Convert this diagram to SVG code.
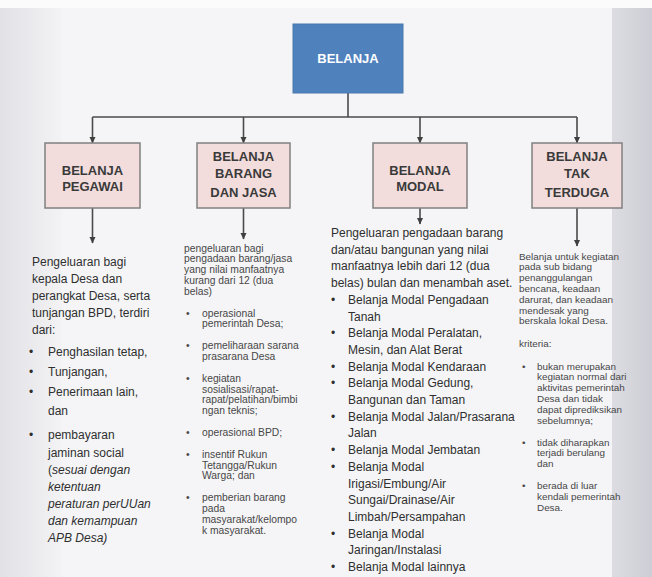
<svg xmlns="http://www.w3.org/2000/svg" width="652" height="577" viewBox="0 0 652 577">
  <defs>
    <linearGradient id="leftShade" x1="0" y1="0" x2="1" y2="0">
      <stop offset="0" stop-color="#e1e1e6"/>
      <stop offset="1" stop-color="#f3f3f5"/>
    </linearGradient>
    <linearGradient id="rightShade" x1="0" y1="0" x2="1" y2="0">
      <stop offset="0" stop-color="#dcdce2"/>
      <stop offset="1" stop-color="#cdcdd5"/>
    </linearGradient>
    <marker id="arrow" markerWidth="7" markerHeight="7" refX="6" refY="3.5" orient="auto" markerUnits="userSpaceOnUse">
      <path d="M0,0.5 L6.5,3.5 L0,6.5 z" fill="#3f3f3f"/>
    </marker>
    <style>
      .txt { font-family: "Liberation Sans", Arial, sans-serif; fill: #2f2f2f; }
      .big { font-size: 12px; }
      .small { font-size: 10.3px; fill: #474747; }
      .tiny { font-size: 9.9px; fill: #474747; }
      .it { font-style: italic; }
      .hdr { font-family: "Liberation Sans", Arial, sans-serif; font-weight: bold; font-size: 13px; fill: #3a3a3a; text-anchor: middle; }
      .box { fill: #f3dddc; stroke: #808080; stroke-width: 1.5; }
      .root { fill: #4f81bd; stroke: #4a78b0; stroke-width: 1; }
      .conn { stroke: #4a4a4a; stroke-width: 1.6; fill: none; }
    </style>
  </defs>

  <!-- page background -->
  <rect x="0" y="0" width="652" height="577" fill="#f5f5f7"/>
  <rect x="0" y="0" width="62" height="577" fill="url(#leftShade)"/>
  <rect x="612" y="0" width="40" height="577" fill="url(#rightShade)"/>
  <rect x="0" y="0" width="652" height="8" fill="#fbfbfc"/>

  <!-- connectors -->
  <g id="connectors" class="conn">
    <line x1="348" y1="93" x2="348" y2="117"/>
    <line x1="92.5" y1="117" x2="577" y2="117"/>
    <line x1="92.5" y1="117" x2="92.5" y2="143" marker-end="url(#arrow)"/>
    <line x1="243.5" y1="117" x2="243.5" y2="143" marker-end="url(#arrow)"/>
    <line x1="420" y1="117" x2="420" y2="143" marker-end="url(#arrow)"/>
    <line x1="577" y1="117" x2="577" y2="143" marker-end="url(#arrow)"/>
    <line x1="92.5" y1="208" x2="92.5" y2="243" marker-end="url(#arrow)"/>
    <line x1="243.5" y1="208" x2="243.5" y2="239" marker-end="url(#arrow)"/>
    <line x1="420" y1="208" x2="420" y2="224" marker-end="url(#arrow)"/>
    <line x1="577" y1="208" x2="577" y2="246" marker-end="url(#arrow)"/>
  </g>

  <!-- root node -->
  <g id="belanja">
    <rect class="root" x="293" y="24" width="110" height="69"/>
    <text x="348" y="63" font-family="Liberation Sans, Arial, sans-serif" font-weight="bold" font-size="13" fill="#ffffff" text-anchor="middle">BELANJA</text>
  </g>

  <!-- category nodes -->
  <g id="belanja-pegawai">
    <rect class="box" x="45" y="143" width="95" height="65"/>
    <text class="hdr"><tspan x="92.5" y="175">BELANJA</tspan><tspan x="92.5" y="191">PEGAWAI</tspan></text>
  </g>
  <g id="belanja-barang-jasa">
    <rect class="box" x="197" y="143" width="93" height="65"/>
    <text class="hdr"><tspan x="243.5" y="161">BELANJA</tspan><tspan x="243.5" y="178">BARANG</tspan><tspan x="243.5" y="197">DAN JASA</tspan></text>
  </g>
  <g id="belanja-modal">
    <rect class="box" x="373" y="143" width="94" height="65"/>
    <text class="hdr"><tspan x="420" y="175">BELANJA</tspan><tspan x="420" y="191">MODAL</tspan></text>
  </g>
  <g id="belanja-tak-terduga">
    <rect class="box" x="532" y="143" width="90" height="65"/>
    <text class="hdr"><tspan x="577" y="161">BELANJA</tspan><tspan x="577" y="178">TAK</tspan><tspan x="577" y="197">TERDUGA</tspan></text>
  </g>

  <!-- description: belanja pegawai -->
  <g id="desc-pegawai" class="txt big">
    <text>
      <tspan x="32" y="266">Pengeluaran bagi</tspan>
      <tspan x="32" y="283">kepala Desa dan</tspan>
      <tspan x="32" y="300">perangkat Desa, serta</tspan>
      <tspan x="32" y="317">tunjangan BPD, terdiri</tspan>
      <tspan x="32" y="334">dari:</tspan>
    </text>
    <text>
      <tspan x="29" y="356">•</tspan><tspan x="48" y="356">Penghasilan tetap,</tspan>
      <tspan x="29" y="376">•</tspan><tspan x="48" y="376">Tunjangan,</tspan>
      <tspan x="29" y="396">•</tspan><tspan x="48" y="396">Penerimaan lain,</tspan>
      <tspan x="48" y="415">dan</tspan>
      <tspan x="29" y="439">•</tspan><tspan x="48" y="439">pembayaran</tspan>
      <tspan x="48" y="457">jaminan social</tspan>
      <tspan x="48" y="474">(<tspan class="it">sesuai dengan</tspan></tspan>
      <tspan x="48" y="491" class="it">ketentuan</tspan>
      <tspan x="48" y="508" class="it">peraturan perUUan</tspan>
      <tspan x="48" y="525" class="it">dan kemampuan</tspan>
      <tspan x="48" y="542" class="it">APB Desa)</tspan>
    </text>
  </g>

  <!-- description: belanja barang dan jasa -->
  <g id="desc-barang-jasa" class="txt small">
    <text>
      <tspan x="184" y="251.5">pengeluaran  bagi</tspan>
      <tspan x="184" y="262.3">pengadaan  barang/jasa</tspan>
      <tspan x="184" y="273.1">yang nilai manfaatnya</tspan>
      <tspan x="184" y="283.9">kurang dari 12 (dua</tspan>
      <tspan x="184" y="294.7">belas)</tspan>
    </text>
    <text>
      <tspan x="186" y="316.5">•</tspan><tspan x="202" y="316.5">operasional</tspan>
      <tspan x="202" y="327.3">pemerintah Desa;</tspan>
      <tspan x="186" y="349.1">•</tspan><tspan x="202" y="349.1">pemeliharaan  sarana</tspan>
      <tspan x="202" y="359.9">prasarana Desa</tspan>
      <tspan x="186" y="381.7">•</tspan><tspan x="202" y="381.7">kegiatan</tspan>
      <tspan x="202" y="392.5">sosialisasi/rapat-</tspan>
      <tspan x="202" y="403.3">rapat/pelatihan/bimbi</tspan>
      <tspan x="202" y="414.1">ngan teknis;</tspan>
      <tspan x="186" y="435.9">•</tspan><tspan x="202" y="435.9">operasional  BPD;</tspan>
      <tspan x="186" y="457.7">•</tspan><tspan x="202" y="457.7">insentif Rukun</tspan>
      <tspan x="202" y="468.5">Tetangga/Rukun</tspan>
      <tspan x="202" y="479.3">Warga; dan</tspan>
      <tspan x="186" y="501.1">•</tspan><tspan x="202" y="501.1">pemberian  barang</tspan>
      <tspan x="202" y="511.9">pada</tspan>
      <tspan x="202" y="522.7">masyarakat/kelompo</tspan>
      <tspan x="202" y="533.5">k masyarakat.</tspan>
    </text>
  </g>

  <!-- description: belanja modal -->
  <g id="desc-modal" class="txt big">
    <text>
      <tspan x="331" y="237">Pengeluaran pengadaan barang</tspan>
      <tspan x="331" y="253.7">dan/atau bangunan yang nilai</tspan>
      <tspan x="331" y="270.4">manfaatnya  lebih dari 12 (dua</tspan>
      <tspan x="331" y="287.1">belas) bulan dan menambah aset.</tspan>
    </text>
    <text>
      <tspan x="331" y="303.8">•</tspan><tspan x="348" y="303.8">Belanja Modal Pengadaan</tspan>
      <tspan x="348" y="320.5">Tanah</tspan>
      <tspan x="331" y="337.2">•</tspan><tspan x="348" y="337.2">Belanja Modal Peralatan,</tspan>
      <tspan x="348" y="353.9">Mesin, dan Alat Berat</tspan>
      <tspan x="331" y="370.6">•</tspan><tspan x="348" y="370.6">Belanja Modal Kendaraan</tspan>
      <tspan x="331" y="387.3">•</tspan><tspan x="348" y="387.3">Belanja Modal Gedung,</tspan>
      <tspan x="348" y="404">Bangunan dan Taman</tspan>
      <tspan x="331" y="420.7">•</tspan><tspan x="348" y="420.7">Belanja Modal Jalan/Prasarana</tspan>
      <tspan x="348" y="437.4">Jalan</tspan>
      <tspan x="331" y="454.1">•</tspan><tspan x="348" y="454.1">Belanja Modal Jembatan</tspan>
      <tspan x="331" y="470.8">•</tspan><tspan x="348" y="470.8">Belanja Modal</tspan>
      <tspan x="348" y="487.5">Irigasi/Embung/Air</tspan>
      <tspan x="348" y="504.2">Sungai/Drainase/Air</tspan>
      <tspan x="348" y="520.9">Limbah/Persampahan</tspan>
      <tspan x="331" y="537.6">•</tspan><tspan x="348" y="537.6">Belanja Modal</tspan>
      <tspan x="348" y="554.3">Jaringan/Instalasi</tspan>
      <tspan x="331" y="571">•</tspan><tspan x="348" y="571">Belanja Modal lainnya</tspan>
    </text>
  </g>

  <!-- description: belanja tak terduga -->
  <g id="desc-tak-terduga" class="txt tiny">
    <text>
      <tspan x="519" y="259.5">Belanja untuk kegiatan</tspan>
      <tspan x="519" y="270.3">pada sub bidang</tspan>
      <tspan x="519" y="281.1">penanggulangan</tspan>
      <tspan x="519" y="291.9">bencana, keadaan</tspan>
      <tspan x="519" y="302.7">darurat, dan keadaan</tspan>
      <tspan x="519" y="313.5">mendesak yang</tspan>
      <tspan x="519" y="324.3">berskala lokal Desa.</tspan>
      <tspan x="519" y="346.5">kriteria:</tspan>
    </text>
    <text>
      <tspan x="522" y="369.5">•</tspan><tspan x="537" y="369.5">bukan merupakan</tspan>
      <tspan x="537" y="380.3">kegiatan normal dari</tspan>
      <tspan x="537" y="391.1">aktivitas pemerintah</tspan>
      <tspan x="537" y="401.9">Desa dan tidak</tspan>
      <tspan x="537" y="412.7">dapat diprediksikan</tspan>
      <tspan x="537" y="423.5">sebelumnya;</tspan>
      <tspan x="522" y="445.5">•</tspan><tspan x="537" y="445.5">tidak diharapkan</tspan>
      <tspan x="537" y="456.3">terjadi berulang</tspan>
      <tspan x="537" y="467.1">dan</tspan>
      <tspan x="522" y="489.1">•</tspan><tspan x="537" y="489.1">berada di luar</tspan>
      <tspan x="537" y="499.9">kendali pemerintah</tspan>
      <tspan x="537" y="510.7">Desa.</tspan>
    </text>
  </g>
</svg>
